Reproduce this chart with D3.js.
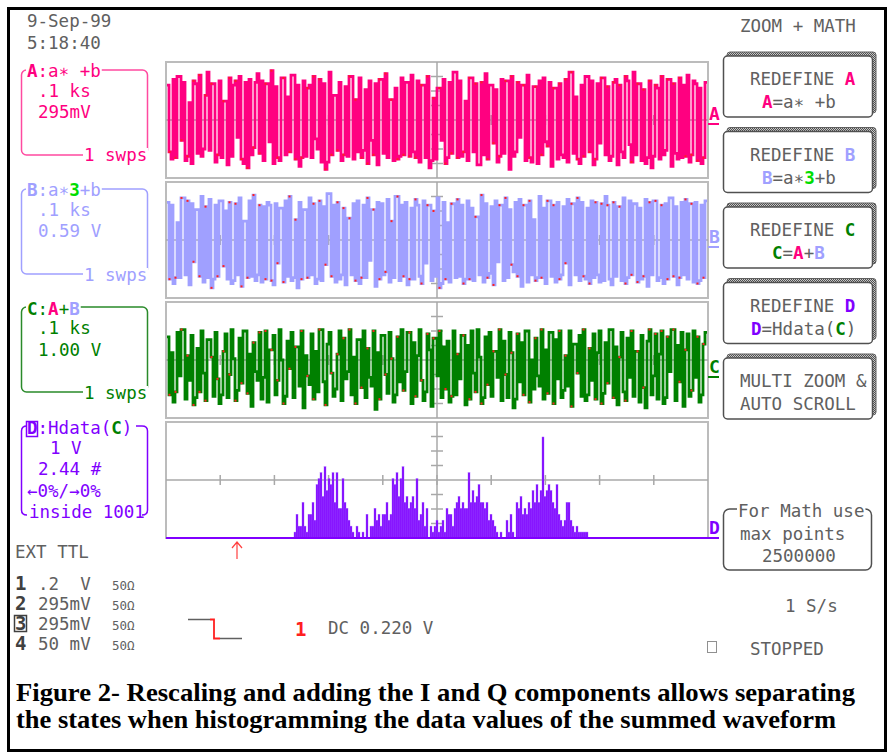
<!DOCTYPE html>
<html>
<head>
<meta charset="utf-8">
<script src="https://cdnjs.cloudflare.com/ajax/libs/d3/7.8.5/d3.min.js"></script>
<style>
body { margin: 0; background: #fff; }
svg { display: block; }
text { white-space: pre; }
</style>
</head>
<body>
<svg id="chart" width="888" height="754"></svg>
<script>
// Samples, in tenths of a division from the centre line.
const traceA = [
    24,-22,-27,28,-26,30,30,-14,26,-28,-25,12,-30,27,25,-23,31,-25,-20,17,
    33,-21,25,25,-29,-24,27,-26,13,13,-31,29,-25,24,27,-12,30,-27,-30,26,
    -33,28,-24,-19,26,32,-23,27,-28,25,25,-15,34,-30,23,-26,-28,29,29,-24,
    16,-22,31,31,-27,24,-32,-26,27,-25,22,24,-26,30,-13,-20,28,-29,25,-34,
    -29,33,-24,17,17,-21,26,-28,-24,23,-25,30,30,-27,14,-22,29,-26,-21,21,
    -30,27,-14,-24,25,-31,28,28,-23,32,-26,14,14,-28,22,-27,-25,29,-24,26,
    26,-25,31,-22,-26,27,-29,24,24,-26,30,-33,-28,15,-27,22,22,-14,28,-30,
    -26,26,-23,33,33,-26,27,-25,-22,13,-28,29,29,-22,25,-31,-31,26,-24,32,
    -27,24,24,-16,21,-29,-25,28,-23,27,27,-34,30,-25,-22,26,-12,24,24,-28,
    31,-26,-29,23,23,-30,27,-24,29,-15,-18,26,-32,22,22,-27,25,-24,-26,28,
    -29,33,33,-23,16,-27,-30,24,-25,30,30,-22,27,-31,-27,25,-16,29,29,-24,
    23,-28,-25,26,28,-31,24,-22,-26,30,27,-17,-29,33,-24,25,25,-28,21,-30,
    -26,27,-33,-25,24,22,-27,30,-24,-21,28,28,-32,25,-23,-27,29,-26,24,-25,
    31,-29,-24,27,25,-28,22,-30,-26,26
];
const traceB = [
    26,-27,24,-30,-26,12,-26,29,29,-24,27,-31,25,-15,21,21,-25,30,-29,23,
    -26,28,-33,-27,24,-25,27,27,-18,20,-27,26,-30,-28,25,-24,29,-32,13,13,
    -26,27,-25,31,-28,-24,24,-29,23,-27,26,24,-28,-31,25,-16,22,22,-29,27,
    -25,30,-28,-26,14,-33,26,-27,21,21,-26,29,-24,25,-30,-27,27,-28,23,-17,
    32,32,-25,24,-29,26,-27,-24,22,-31,15,15,-24,25,-28,27,-30,-26,24,-26,
    29,-14,21,21,-32,26,-27,25,-24,-22,28,-29,13,-26,30,30,-28,24,-25,26,
    -31,-27,22,-27,28,24,-25,-30,27,-16,24,24,-28,20,-25,29,-33,-30,26,-27,
    12,-29,25,25,-26,28,-25,24,-30,-27,27,-27,22,-28,16,16,-24,31,-29,25,
    -26,-23,23,-31,27,-15,24,24,-28,29,-26,21,-17,-22,26,-25,28,-32,24,24,
    -29,27,-24,14,-28,-26,30,-26,22,-30,27,27,-25,24,-29,26,-27,-24,23,-16,
    28,-31,25,25,-24,29,-28,26,-25,-27,22,-30,27,-26,26,-24,-29,25,-28,30,
    24,-27,-31,26,-25,23,23,-28,29,-30,-26,27,-24,25,25,-29,22,-27,-25,28,
    -32,26,-24,27,27,-28,-26,24,-30,25,-27,29,29,-25,23,-31,-26,26,-24,28,
    -27,25,25,-29,26,-30,-28,24,-26,27
];
const traceC = [
    16,-24,5,-29,-22,19,-11,21,21,-27,3,-14,17,-31,-26,8,-22,20,-9,-28,
    14,14,2,-25,19,-13,-30,-24,6,18,-26,-10,21,1,-28,-21,15,-16,20,20,
    -23,4,-32,12,-8,-14,19,-27,-12,20,-29,7,7,17,-24,-14,21,0,-30,-25,
    13,-6,19,-26,9,9,-18,20,-33,3,-11,-17,18,-27,6,-22,21,21,-15,-31,
    11,19,-9,-25,-20,4,20,-28,15,-13,-8,21,-24,2,-30,14,14,-19,20,-26,
    8,-12,-18,20,-34,5,-27,17,17,-10,-23,19,1,-29,-24,16,-15,21,-21,-8,
    19,19,-30,12,-25,3,21,-14,-28,-22,18,7,-32,15,15,-11,20,-26,9,-20,
    13,-29,-25,20,-24,4,-13,17,17,-31,10,-27,20,-9,-22,21,2,-30,-26,16,
    -17,19,-25,6,6,-12,21,-28,13,-10,-26,19,5,-33,-27,18,-15,12,-24,20,
    20,-29,0,-20,15,-11,-18,21,-27,7,-23,19,19,-30,14,-13,20,-26,-21,3,
    -18,20,-32,11,11,-9,17,-25,21,-28,-24,8,-14,18,-27,5,20,-30,-23,12,
    -16,21,21,-26,9,-31,2,19,-22,-28,15,-12,20,-25,6,6,-29,17,-19,-33,
    13,21,-24,-11,18,-27,4,20,-30,-26,16,-8,21,21,-28,10,-15,19,-32,7,
    18,-25,-21,20,-12,16,-29,-24,11,19
];
// Histogram of C: counts per bin, first bin index, counts per division.
const histStart = 64;
const histBins = 271;
const histPerDiv = 2.44;
const histD = [
    1,4,2,2,6,2,1,4,4,6,3,9,10,11,7,12,8,10,9,11,6,11,5,5,10,6,5,3,2,1,
    0,2,1,0,1,0,4,0,
    2,2,5,3,4,2,4,4,6,3,4,10,9,11,7,10,12,6,7,5,6,7,5,10,3,4,6,2,5,0,2,1,2,3,1,2,3,
    1,5,4,4,2,5,6,7,5,6,5,5,11,6,8,6,7,9,6,6,5,6,3,4,3,2,1,
    0,1,0,0,3,1,4,1,0,
    6,5,7,4,5,4,6,5,8,6,9,6,8,17,7,8,9,8,6,5,9,4,3,2,3,6,6,3,2,1,2,1,1,1,1,1
];
const chanNames = ['1', '2', '3', '4'];
const chanScales = ['.2  V', '295mV', '295mV', '50 mV'];
const chanCoupling = ['50Ω', '50Ω', '50Ω', '50Ω'];
const captionLines = [
    'Figure 2- Rescaling and adding the I and Q components allows separating',
    'the states when histogramming the data values of the summed waveform'
];

const MONO = "'DejaVu Sans Mono', monospace";
const GRAY = '#606060';
const PINK = '#ff0080';
const LAV = '#a0a0ff';
const GREEN = '#008000';
const BRIGHT = '#00dd00';
const PURPLE = '#8000ff';
const RED = '#ff2020';

const svg = d3.select('#chart');

const defs = svg.append('defs');
const hatch = defs.append('pattern')
    .attr('id', 'hatch')
    .attr('width', 2).attr('height', 2)
    .attr('patternUnits', 'userSpaceOnUse');
hatch.append('rect').attr('width', 2).attr('height', 2).attr('fill', '#c8c8c8');
hatch.append('rect').attr('width', 1).attr('height', 1).attr('fill', '#505050');
hatch.append('rect').attr('x', 1).attr('y', 1).attr('width', 1).attr('height', 1).attr('fill', '#505050');

// Text with coloured parts: [string, colour, bold].
const label = (x, y, parts, opt = {}) => {
    const t = svg.append('text')
        .attr('x', x)
        .attr('y', y)
        .attr('font-family', opt.family || MONO)
        .attr('font-size', opt.size || 17.5);
    parts.forEach(p => {
        const [s, c, b] = Array.isArray(p) ? p : [p, opt.color || GRAY, opt.bold];
        t.append('tspan')
            .text(s)
            .attr('fill', c)
            .attr('font-weight', b ? 'bold' : 'normal');
    });
    if (opt.halo) {
        // White block behind the text, to cut the frame line.
        const bb = t.node().getBBox();
        svg.insert('rect', () => t.node())
            .attr('x', bb.x - 1).attr('y', bb.y + 3)
            .attr('width', bb.width + 2).attr('height', bb.height - 6)
            .attr('fill', '#fff');
    }
    return t;
};

// Outer frame.
svg.append('rect')
    .attr('x', 8.5).attr('y', 8.5)
    .attr('width', 877).attr('height', 742)
    .attr('fill', 'none')
    .attr('stroke', '#000')
    .attr('stroke-width', 3);

// Grids.
const panels = [0, 1, 2, 3].map(k => ({x0: 166, x1: 708, top: 62 + 120 * k, h: 116}));
panels.forEach(p => {
    const g = svg.append('g');
    const cx = (p.x0 + p.x1) / 2;
    const cy = p.top + p.h / 2;
    g.append('rect')
        .attr('x', p.x0).attr('y', p.top)
        .attr('width', p.x1 - p.x0).attr('height', p.h)
        .attr('fill', 'none')
        .attr('stroke', '#bcbcbc')
        .attr('stroke-width', 2);
    g.append('line')
        .attr('x1', p.x0).attr('x2', p.x1)
        .attr('y1', cy).attr('y2', cy)
        .attr('stroke', '#a8a8a8').attr('stroke-width', 1.5);
    g.append('line')
        .attr('x1', cx).attr('x2', cx)
        .attr('y1', p.top).attr('y2', p.top + p.h)
        .attr('stroke', '#a8a8a8').attr('stroke-width', 1.5);
    d3.range(1, 10).forEach(i => {
        const x = p.x0 + i * (p.x1 - p.x0) / 10;
        g.append('line')
            .attr('x1', x).attr('x2', x)
            .attr('y1', cy - 5).attr('y2', cy + 5)
            .attr('stroke', '#a8a8a8').attr('stroke-width', 1.5);
    });
    d3.range(1, 8).filter(i => i !== 4).forEach(i => {
        const y = p.top + i * p.h / 8;
        g.append('line')
            .attr('x1', cx - 6).attr('x2', cx + 6)
            .attr('y1', y).attr('y2', y)
            .attr('stroke', '#a8a8a8').attr('stroke-width', 1.5);
    });
});

// Traces.
const drawTrace = (p, data, color) => {
    const x = d3.scaleLinear().domain([0, data.length]).range([p.x0 + 1, p.x1 - 1]);
    const y = d3.scaleLinear().domain([-40, 40]).range([p.top + p.h, p.top]);
    const pts = data.map((v, i) => [i, v]).concat([[data.length, data[data.length - 1]]]);
    svg.append('path')
        .datum(pts)
        .attr('d', d3.line().x(d => x(d[0])).y(d => y(d[1])).curve(d3.curveStepAfter))
        .attr('fill', 'none')
        .attr('stroke', color)
        .attr('stroke-width', 2.8);
    svg.append('g')
        .selectAll('rect')
        .data(pts.filter(d => d[0] % 3 === 1))
        .join('rect')
        .attr('x', d => x(d[0]) - 0.5)
        .attr('y', d => y(d[1]) - 1)
        .attr('width', 2).attr('height', 2)
        .attr('fill', RED);
};
drawTrace(panels[0], traceA, PINK);
drawTrace(panels[1], traceB, LAV);
drawTrace(panels[2], traceC, GREEN);

// Histogram.
const pd = panels[3];
const xh = d3.scaleLinear().domain([0, histBins]).range([pd.x0, pd.x1]);
const yh = d3.scaleLinear().domain([0, 8 * histPerDiv]).range([pd.top + pd.h, pd.top]);
svg.append('g')
    .selectAll('rect')
    .data(histD)
    .join('rect')
    .attr('x', (d, i) => xh(histStart + i))
    .attr('y', d => yh(d))
    .attr('width', xh(1) - xh(0))
    .attr('height', d => yh(0) - yh(d))
    .attr('fill', PURPLE)
    .attr('stroke', '#a468ff')
    .attr('stroke-width', 0.4);
svg.append('line')
    .attr('x1', pd.x0).attr('x2', pd.x1)
    .attr('y1', yh(0)).attr('y2', yh(0))
    .attr('stroke', PURPLE).attr('stroke-width', 2);

// Ground markers on the right edge.
[['A', PINK, 124], ['B', LAV, 247], ['C', GREEN, 377], ['D', PURPLE, 538]].forEach(([s, c, y]) => {
    label(709, y - 4, [[s, c, true]], {size: 18});
    svg.append('line')
        .attr('x1', 708).attr('x2', 719)
        .attr('y1', y).attr('y2', y)
        .attr('stroke', c).attr('stroke-width', 2);
});

// Left trace boxes.
const box = (y0, y1, color) => {
    svg.append('rect')
        .attr('x', 21.5).attr('y', y0)
        .attr('width', 126).attr('height', y1 - y0)
        .attr('rx', 5)
        .attr('fill', 'none')
        .attr('stroke', color)
        .attr('stroke-width', 1.5);
};
box(70, 155, '#ff4aa0');
label(27, 77, [['A', PINK, true], [':a∗ +b', PINK]], {halo: true});
label(38, 97, ['.1 ks'], {color: PINK});
label(38, 118, ['295mV'], {color: PINK});
label(84, 161, ['1 swps'], {color: PINK, halo: true});

box(189, 274, LAV);
label(27, 196, [['B', LAV, true], [':a∗', LAV], ['3', BRIGHT, true], ['+b', LAV]], {halo: true});
label(38, 216, ['.1 ks'], {color: LAV});
label(38, 237, ['0.59 V'], {color: LAV});
label(84, 281, ['1 swps'], {color: LAV, halo: true});

box(307, 392, '#2a8a2a');
label(27, 315, [['C', GREEN, true], [':', GREEN], ['A', PINK, true], ['+', GREEN], ['B', LAV, true]], {halo: true});
label(38, 334, ['.1 ks'], {color: GREEN});
label(38, 356, ['1.00 V'], {color: GREEN});
label(84, 399, ['1 swps'], {color: GREEN, halo: true});

// D box is drawn as two brackets.
svg.append('path')
    .attr('d', 'M27,426 Q21.5,426 21.5,431 L21.5,510 Q21.5,515 27,515 M136,426 L142,426 Q147.5,426 147.5,431 L147.5,510 Q147.5,515 142,515')
    .attr('fill', 'none')
    .attr('stroke', PURPLE)
    .attr('stroke-width', 1.5);
svg.append('rect')
    .attr('x', 26.5).attr('y', 421.5)
    .attr('width', 11).attr('height', 15)
    .attr('fill', 'none')
    .attr('stroke', PURPLE)
    .attr('stroke-width', 1.5);
label(27, 434, [['D', PURPLE, true], [':Hdata(', PURPLE], ['C', GREEN, true], [')', PURPLE]]);
label(50, 454, ['1 V'], {color: PURPLE});
label(38, 475, ['2.44 #'], {color: PURPLE});
label(27, 497, ['←0%/→0%'], {color: PURPLE});
label(29, 518, ['inside 1001'], {color: PURPLE});

// Channel settings.
label(15, 558, ['EXT TTL']);
chanNames.forEach((n, i) => {
    const y = 590 + 20 * i;
    label(15, y, [[n, '#404040', true]], {size: 19});
    if (n === '3') {
        svg.append('rect')
            .attr('x', 14.5).attr('y', y - 14.5)
            .attr('width', 12).attr('height', 16)
            .attr('fill', 'none')
            .attr('stroke', '#404040')
            .attr('stroke-width', 1.5);
    }
    label(38, y, [chanScales[i]]);
    label(112, y, [chanCoupling[i]], {size: 12.5});
});

// Trigger.
svg.append('path')
    .attr('d', 'M237,559 L237,542 M232,548 L237,542 L242,548')
    .attr('fill', 'none')
    .attr('stroke', '#ff4040')
    .attr('stroke-width', 1.2);
svg.append('path')
    .attr('d', 'M188,619.5 L210,619.5 M220,638.5 L242,638.5')
    .attr('stroke', GRAY).attr('stroke-width', 1.5);
svg.append('path')
    .attr('d', 'M210,619.5 L214,619.5 L214,638.5 L220,638.5')
    .attr('fill', 'none')
    .attr('stroke', RED).attr('stroke-width', 1.8);
label(295, 636, [['1', RED, true]], {size: 19});
label(328, 634, ['DC 0.220 V']);

// Header and right-side menu.
label(27, 27, ['9-Sep-99']);
label(27, 49, ['5:18:40']);
label(740, 32, ['ZOOM + MATH']);

const button = (y, lines) => {
    svg.append('rect')
        .attr('x', 727).attr('y', y - 4)
        .attr('width', 149).attr('height', 61)
        .attr('rx', 3)
        .attr('fill', 'url(#hatch)')
        .attr('stroke', '#606060');
    svg.append('rect')
        .attr('x', 723.5).attr('y', y)
        .attr('width', 149).attr('height', 61)
        .attr('rx', 4)
        .attr('fill', '#fff')
        .attr('stroke', '#505050')
        .attr('stroke-width', 1.5);
    lines.forEach(([x, parts], i) => label(x, y + 29 + 23 * i, parts));
};
button(56, [[750, ['REDEFINE ', ['A', PINK, true]]], [762, [['A', PINK, true], '=a∗ +b']]]);
button(131.5, [[750, ['REDEFINE ', ['B', LAV, true]]], [762, [['B', LAV, true], '=a∗', ['3', BRIGHT, true], '+b']]]);
button(207, [[750, ['REDEFINE ', ['C', GREEN, true]]], [772, [['C', GREEN, true], '=', ['A', PINK, true], '+', ['B', LAV, true]]]]);
button(282.5, [[750, ['REDEFINE ', ['D', PURPLE, true]]], [751, [['D', PURPLE, true], '=Hdata(', ['C', GREEN, true], ')']]]);
button(358, [[740, ['MULTI ZOOM &']], [740, ['AUTO SCROLL']]]);

svg.append('rect')
    .attr('x', 723.5).attr('y', 509)
    .attr('width', 148).attr('height', 61)
    .attr('rx', 6)
    .attr('fill', 'none')
    .attr('stroke', '#505050')
    .attr('stroke-width', 1.5);
label(738, 517, ['For Math use'], {halo: true});
label(740, 540, ['max points']);
label(762, 562, ['2500000']);
label(785, 612, ['1 S/s']);
svg.append('rect')
    .attr('x', 707.5).attr('y', 641.5)
    .attr('width', 9).attr('height', 11)
    .attr('fill', 'none')
    .attr('stroke', '#909090');
label(750, 655, ['STOPPED']);

// Caption.
const capWidths = [839, 820];
captionLines.forEach((s, i) => {
    svg.append('text')
        .attr('x', 16)
        .attr('y', 701 + 27 * i)
        .attr('font-family', "'Liberation Serif', 'Times New Roman', serif")
        .attr('font-weight', 'bold')
        .attr('font-size', 26)
        .attr('textLength', capWidths[i])
        .attr('lengthAdjust', 'spacingAndGlyphs')
        .attr('fill', '#000')
        .text(s);
});
</script>
</body>
</html>
